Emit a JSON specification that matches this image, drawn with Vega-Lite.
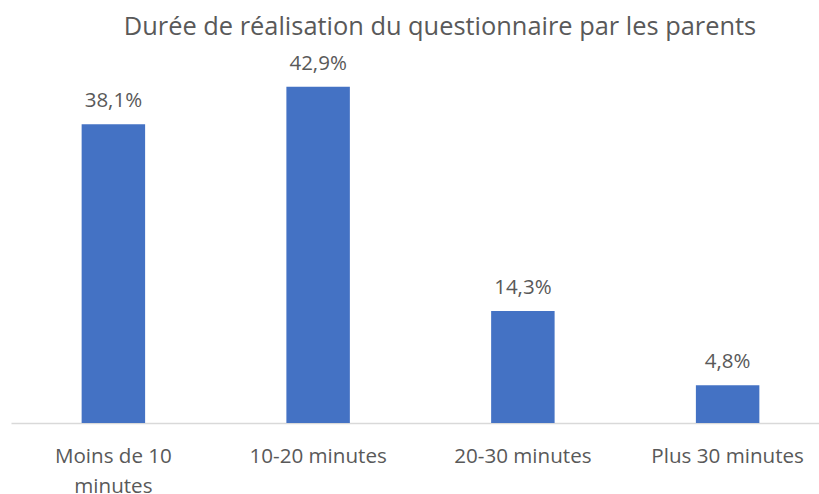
{
  "$schema": "https://vega.github.io/schema/vega-lite/v6.json",
  "width": 819,
  "height": 352.8,
  "autosize": {"type": "none"},
  "padding": {"left": 11, "top": 70.2, "right": 0, "bottom": 71},
  "background": "white",
  "title": {
    "text": "Durée de réalisation du questionnaire par les parents",
    "font": "Open Sans",
    "fontSize": 25.4,
    "fontWeight": "normal",
    "color": "#595959",
    "anchor": "middle",
    "baseline": "alphabetic",
    "offset": -7,
    "dx": 19.5
  },
  "data": {
    "values": [
      {"duree": "Moins de 10 minutes", "pct": 38.1, "label": "38,1%"},
      {"duree": "10-20 minutes", "pct": 42.9, "label": "42,9%"},
      {"duree": "20-30 minutes", "pct": 14.3, "label": "14,3%"},
      {"duree": "Plus 30 minutes", "pct": 4.8, "label": "4,8%"}
    ]
  },
  "encoding": {
    "x": {
      "field": "duree",
      "type": "nominal",
      "sort": null,
      "scale": {"paddingInner": 0.69, "paddingOuter": 0.345},
      "axis": {
        "title": null,
        "labelAngle": 0,
        "ticks": false,
        "domainColor": "#D9D9D9",
        "domainWidth": 1.5,
        "labelFont": "Open Sans",
        "labelFontSize": 20.6,
        "labelColor": "#595959",
        "labelPadding": 23,
        "labelLineHeight": 30,
        "labelLimit": 300,
        "labelExpr": "datum.value == 'Moins de 10 minutes' ? ['Moins de 10', 'minutes'] : datum.value"
      }
    },
    "y": {
      "field": "pct",
      "type": "quantitative",
      "scale": {"domain": [0, 45], "nice": false},
      "axis": null
    }
  },
  "layer": [
    {"mark": {"type": "bar", "color": "#4472C4"}},
    {
      "mark": {
        "type": "text",
        "font": "Open Sans",
        "fontSize": 20.5,
        "color": "#595959",
        "baseline": "alphabetic",
        "dy": -17
      },
      "encoding": {"text": {"field": "label"}}
    }
  ],
  "config": {"view": {"stroke": null}}
}
